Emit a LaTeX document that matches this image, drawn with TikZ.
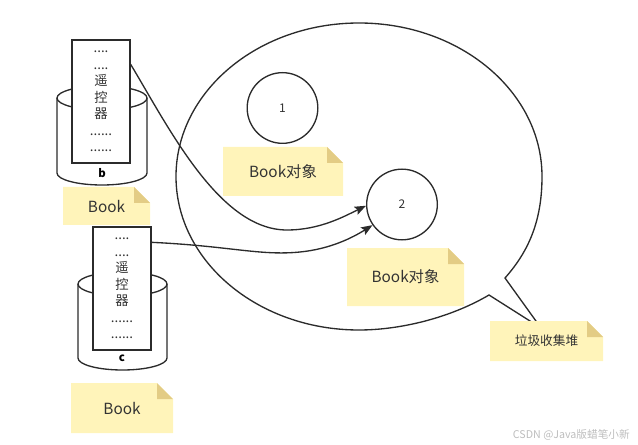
\documentclass[tikz,border=0pt]{standalone}
\usepackage{fontspec}
\setmainfont{Noto Sans CJK SC}
\usetikzlibrary{arrows.meta,calc}
\definecolor{strokec}{HTML}{2B2B2B}
\definecolor{textc}{HTML}{333333}
\definecolor{notefill}{HTML}{FFF4BA}
\definecolor{foldfill}{HTML}{E3CC85}
\definecolor{wmark}{HTML}{BDBDBD}
\newcommand\notebox[6]{%
  \fill[notefill] (#2,#3) -- ({#4-16},#3) -- (#4,{#3+16}) -- (#4,#5) -- (#2,#5) -- cycle;
  \fill[foldfill] ({#4-16},#3) -- ({#4-16},{#3+16}) -- (#4,{#3+16}) -- cycle;
  \node[notetext] (#1) at ({(#2+#4)/2},{(#3+#5)/2}) {#6};}
\begin{document}
\begin{tikzpicture}[x=0.75pt,y=-0.75pt,
  line/.style={draw=strokec,line width=1pt},
  notetext/.style={text=textc,font=\fontsize{11.5}{13}\selectfont,inner sep=0pt},
  card/.style={line,fill=white,minimum width=43.5pt,inner sep=0pt,align=center,text=textc,
     font=\fontsize{10}{12.4}\selectfont},
  ball/.style={line,circle,fill=white,minimum size=53pt,inner sep=0pt,text=textc,font=\fontsize{9}{11}\selectfont},
  conn/.style={draw=strokec,line width=1pt,-{Stealth[length=8.5pt,width=6.5pt,inset=1.5pt]}},
  tag/.style={text=black,font=\bfseries\fontsize{8.5}{10}\selectfont,inner sep=0pt}]
\useasboundingbox (0,0) rectangle (638,445);
% speech bubble
\draw[line,line join=miter]
  (489,295) .. controls (450,318) and (400,330) .. (359,330)
  .. controls (258,330) and (176,261.3) .. (176,176.5)
  .. controls (176,91.7) and (258,23) .. (359,23)
  .. controls (460,23) and (542,91.7) .. (542,176.5)
  .. controls (542,222) and (528,252) .. (505,278)
  -- (541,328) -- cycle;
% cylinder b
\draw[line] (57,98) -- (57,173) arc[start angle=180,end angle=0,x radius=45,y radius=12] -- (147,98);
\draw[line] (102,98) ellipse [x radius=45,y radius=12];
\node[tag] (lb) at (102,173) {b};
\node[card,minimum height=92.25pt] (rb) at (101,101.5)
  {....\\....\\遥\\控\\器\\......\\......};
% cylinder c
\draw[line] (78,284) -- (78,358) arc[start angle=180,end angle=0,x radius=44.5,y radius=12] -- (167,284);
\draw[line] (122.5,284) ellipse [x radius=44.5,y radius=12];
\node[tag] (lc) at (122,358) {c};
\node[card,minimum height=92.25pt] (rc) at (122,288.5)
  {....\\....\\遥\\控\\器\\......\\......};
% notes
\notebox{nb}{63}{187}{150}{225}{Book}
\notebox{nc}{71}{383}{173}{433}{Book}
\notebox{n1}{223}{147}{343}{196}{Book对象}
\notebox{n2}{347}{248}{464}{306}{Book对象}
\notebox{ngc}{490}{321}{603}{361}{\fontsize{9.5}{11}\selectfont 垃圾收集堆}
% objects
\node[ball] (c1) at (282.5,108) {1};
\node[ball] (c2) at (402,204.5) {2};
% connectors
\draw[conn] ($(rb.north east)+(0,25)$) .. controls (170,130) and (220,230) .. (287,230)
  .. controls (320,230) and (345,216) .. (c2.182);
\draw[conn] ($(rc.north east)+(0,16)$) .. controls (230,246) and (260,256) .. (300,252)
  .. controls (330,249) and (352,238) .. (c2.215);
% watermark
\node[text=wmark,font=\fontsize{8}{9}\selectfont,anchor=east,inner sep=0pt] (wm) at (630,435) {CSDN @Java版蜡笔小新};
\end{tikzpicture}
\end{document}
